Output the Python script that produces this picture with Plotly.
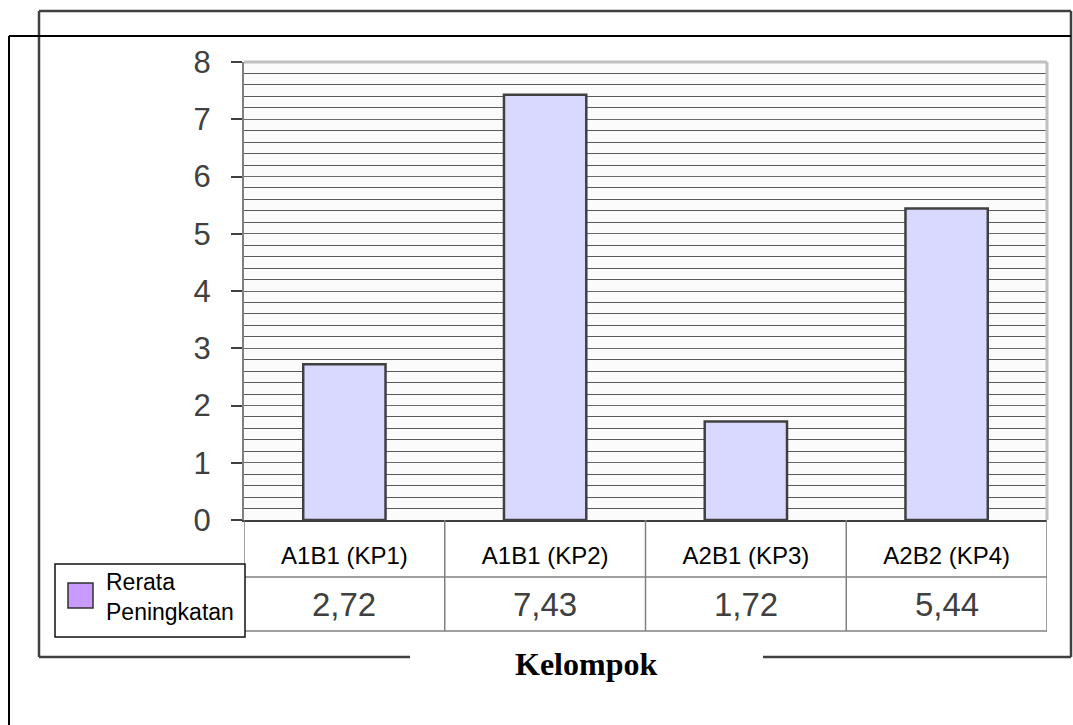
import plotly.graph_objects as go

categories = ["A1B1 (KP1)", "A1B1 (KP2)", "A2B1 (KP3)", "A2B2 (KP4)"]
values = [2.72, 7.43, 1.72, 5.44]
series_name = "Rerata Peningkatan"
x_title = "Kelompok"
y_ticks = [0, 1, 2, 3, 4, 5, 6, 7, 8]

W, H = 1073, 725
L, R, T, B = 244, 1047, 62, 520  # pixel positions of the plot area


def X(px):
    return (px - L) / (R - L)


def Y(py):
    return (B - py) / (B - T)


fig = go.Figure()
fig.add_trace(go.Bar(
    x=categories, y=values, name=series_name, width=0.41,
    marker=dict(color="#d9d9ff", line=dict(color="#404040", width=2.5)),
    showlegend=False,
))

shapes = []
shapes.append(dict(type="line", xref="paper", yref="paper", x0=0, x1=1, y0=1, y1=1,
                   line=dict(color="#c0c0c0", width=3)))
shapes.append(dict(type="line", xref="paper", yref="paper", x0=1, x1=1, y0=0, y1=1,
                   line=dict(color="#c0c0c0", width=3)))

row1 = Y(577)
row2 = Y(631)
for xb in [-0.5, 0.5, 1.5, 2.5, 3.5]:
    shapes.append(dict(type="line", xref="x", yref="paper", x0=xb, x1=xb, y0=0, y1=row2,
                       line=dict(color="#808080", width=1.5)))
for yy in [row1, row2]:
    shapes.append(dict(type="line", xref="x", yref="paper", x0=-0.5, x1=3.5, y0=yy, y1=yy,
                       line=dict(color="#808080", width=1.5)))

shapes.append(dict(type="rect", xref="paper", yref="paper", x0=X(55), x1=X(245), y0=Y(637), y1=Y(564),
                   fillcolor="white", line=dict(color="#111111", width=1.5)))
shapes.append(dict(type="rect", xref="paper", yref="paper", x0=X(68), x1=X(93), y0=Y(608), y1=Y(583),
                   fillcolor="#c99bff", line=dict(color="#303030", width=1.5)))

frame1 = dict(color="#404040", width=2.5)
shapes.append(dict(type="line", xref="paper", yref="paper", x0=X(39), x1=X(1071), y0=Y(11), y1=Y(11), line=frame1))
shapes.append(dict(type="line", xref="paper", yref="paper", x0=X(1071), x1=X(1071), y0=Y(11), y1=Y(657), line=frame1))
shapes.append(dict(type="line", xref="paper", yref="paper", x0=X(39), x1=X(39), y0=Y(11), y1=Y(657), line=frame1))
shapes.append(dict(type="line", xref="paper", yref="paper", x0=X(39), x1=X(410), y0=Y(657), y1=Y(657), line=frame1))
shapes.append(dict(type="line", xref="paper", yref="paper", x0=X(763), x1=X(1071), y0=Y(657), y1=Y(657), line=frame1))
frame2 = dict(color="#000000", width=2)
shapes.append(dict(type="line", xref="paper", yref="paper", x0=X(9), x1=X(1071), y0=Y(36), y1=Y(36), line=frame2))
shapes.append(dict(type="line", xref="paper", yref="paper", x0=X(9), x1=X(9), y0=Y(36), y1=Y(725), line=frame2))

annotations = []
for c, v in zip(categories, values):
    annotations.append(dict(x=c, xref="x", y=Y(604), yref="paper", text=f"{v:.2f}".replace(".", ","),
                            showarrow=False, xanchor="center", yanchor="middle",
                            font=dict(family="Arial, Liberation Sans", size=33, color="#404040")))
annotations.append(dict(x=X(104), xref="paper", y=Y(597), yref="paper", text="Rerata<br>Peningkatan",
                        showarrow=False, xanchor="left", yanchor="middle", align="left",
                        font=dict(family="Arial, Liberation Sans", size=23, color="#000000")))
annotations.append(dict(x=X(586), xref="paper", y=Y(664), yref="paper", text=f"<b>{x_title}</b>",
                        showarrow=False, xanchor="center", yanchor="middle",
                        font=dict(family="Times New Roman, Liberation Serif", size=32, color="#000000")))

fig.update_layout(
    width=W, height=H, autosize=False,
    margin=dict(l=L, r=W - R, t=T, b=H - B, pad=0),
    paper_bgcolor="white", plot_bgcolor="#fbfbfb",
    shapes=shapes, annotations=annotations,
    xaxis=dict(type="category", range=[-0.5, 3.5], showgrid=False, ticks="",
               showline=True, linecolor="#404040", linewidth=2,
               tickfont=dict(family="Arial, Liberation Sans", size=24, color="#000000"),
               ticklabelstandoff=13),
    yaxis=dict(range=[0, 8], tickvals=y_ticks, ticks="outside", ticklen=11, tickwidth=1.5,
               tickcolor="#404040", showgrid=True, gridcolor="#6a6a6a", gridwidth=1,
               minor=dict(dtick=0.2, showgrid=True, gridcolor="#5a5a5a", gridwidth=1),
               zeroline=False, showline=True, linecolor="#808080", linewidth=2,
               tickfont=dict(family="Arial, Liberation Sans", size=31, color="#404040"),
               ticklabelstandoff=14),
    showlegend=False,
)

fig.write_html("out.html", config={"displayModeBar": False},
               post_script="document.body.style.margin='0';document.body.style.overflow='hidden';")
